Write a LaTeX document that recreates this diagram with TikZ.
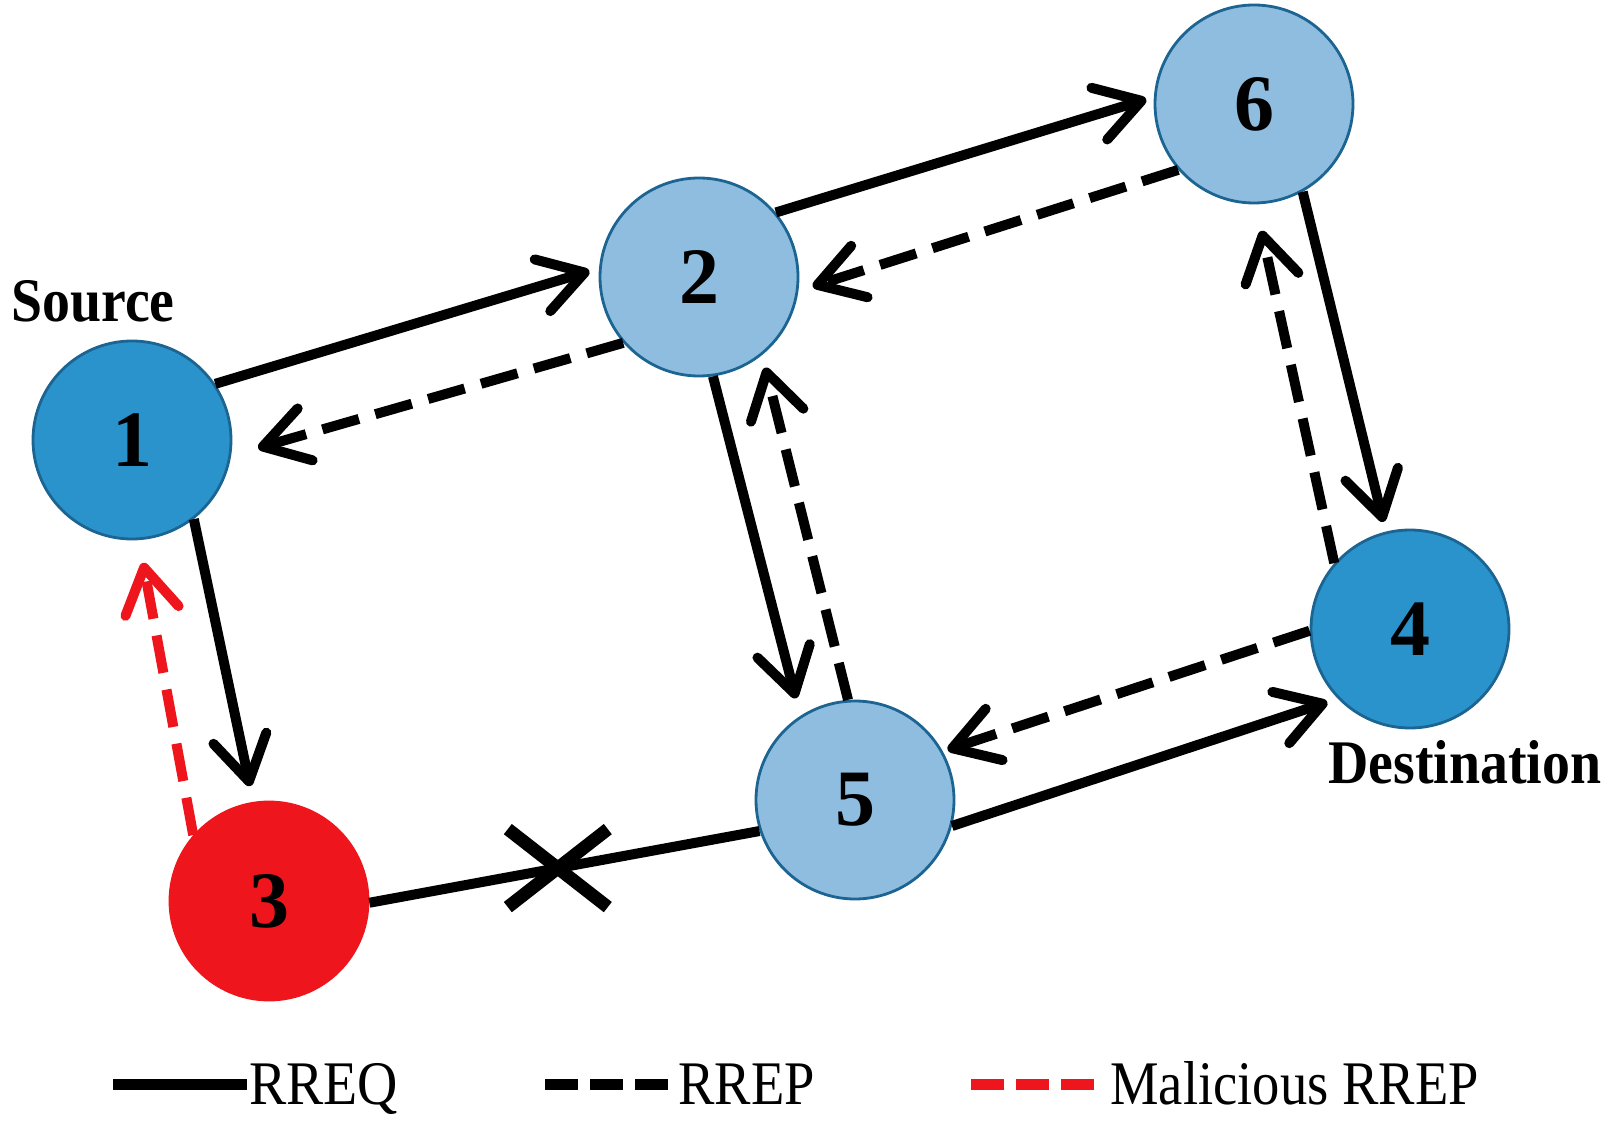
\documentclass[tikz,border=0pt]{standalone}
\usepackage{fontspec}
\usepackage{graphicx}
\setmainfont{Liberation Serif}
\usetikzlibrary{arrows.meta}
\definecolor{darkblue}{RGB}{42,147,204}
\definecolor{lightblue}{RGB}{143,189,224}
\definecolor{nodeborder}{RGB}{28,100,145}
\definecolor{malred}{RGB}{238,22,28}
\begin{document}
\begin{tikzpicture}[x=0.5pt,y=-0.5pt,
  netnode/.style={circle, minimum size=99pt, inner sep=0pt, draw=nodeborder, line width=1.4pt, font=\fontsize{40}{40}\selectfont\bfseries},
  srcnode/.style={netnode, fill=darkblue},
  relnode/.style={netnode, fill=lightblue},
  malnode/.style={netnode, fill=malred, draw=malred},
  tip/.style={-{Straight Barb[length=22pt,width=27pt,line cap=round,line join=round]}},
  rreq/.style={line width=5pt, tip},
  rrep/.style={line width=5pt, dash pattern=on 19pt off 8.5pt, tip},
  mrrep/.style={rrep, draw=malred},
  lbl/.style={font=\fontsize{31}{31}\selectfont\bfseries, inner sep=0pt},
  legtxt/.style={font=\fontsize{31}{31}\selectfont, inner sep=0pt}
]
\useasboundingbox[fill=white] (0,0) rectangle (1611,1133);

% nodes
\node[srcnode] (n1) at (132,440) {1};
\node[relnode] (n2) at (699,277) {2};
\node[relnode] (n6) at (1254,104) {6};
\node[srcnode] (n4) at (1410,629) {4};
\node[relnode] (n5) at (855,800) {5};
\node[malnode] (n3) at (269,901) {3};

\node[lbl, anchor=base west] (src) at (11,322) {\scalebox{0.9}[1]{Source}};
\node[lbl, anchor=base west] (dst) at (1328,783) {\scalebox{0.9}[1]{Destination}};

% RREQ
\draw[rreq, shorten >=5pt] (n1.34.5) -- (n2.175);
\draw[rreq, shorten >=4pt] (n2.40.7) -- (n6.176.3);
\draw[rreq, shorten >=5pt] (n6.-61.3) -- (n4.104.3);
\draw[rreq, shorten >=5.5pt] (n5.-15) -- (n4.224.6);
\draw[rreq, shorten >=9pt] (n2.-82.3) -- (n5.123.8);
\draw[rreq, shorten >=8pt] (n1.-52.7) -- (n3.99.5);
\draw[line width=5pt] (n3.-1.7) -- (n5.198.8) coordinate[pos=0.483] (cut);
\draw[line width=6.5pt] ([shift={(-50,-39)}]cut) -- ([shift={(50,39)}]cut)
                      ([shift={(-50,39)}]cut) -- ([shift={(50,-39)}]cut);

% RREP
\draw[rrep, shorten >=7.5pt] (n6.221.7) -- (n2.-8);
\draw[rrep, shorten >=14pt] (n2.221.8) -- (n1.-9);
\draw[rrep, shorten >=13.5pt] (n4.139.8) -- (n6.-89.5);
\draw[rrep, shorten >=6.5pt] (n5.94) -- (n2.-51.9);
\draw[rrep, shorten >=2.5pt] (n4.181.7) -- (n5.29);

% Malicious RREP
\draw[mrrep, shorten >=11.5pt] (n3.139.3) -- (n1.-86.2);

% legend
\coordinate (la1) at (113,1084); \coordinate (la2) at (247,1084);
\coordinate (lb1) at (545,1084); \coordinate (lb2) at (668,1084);
\coordinate (lc1) at (971,1084); \coordinate (lc2) at (1104,1084);
\draw[line width=5.5pt] (la1) -- (la2);
\draw[line width=5.5pt, dash pattern=on 16.5pt off 6pt] (lb1) -- (lb2);
\draw[line width=5.5pt, malred, dash pattern=on 16.5pt off 6pt] (lc1) -- (lc2);
\node[legtxt, anchor=base west] (ta) at (249,1104) {\scalebox{0.9}[1]{RREQ}};
\node[legtxt, anchor=base west] (tb) at (678,1104) {\scalebox{0.88}[1]{RREP}};
\node[legtxt, anchor=base west] (tc) at (1110,1104) {\scalebox{0.88}[1]{Malicious RREP}};
\end{tikzpicture}
\end{document}
